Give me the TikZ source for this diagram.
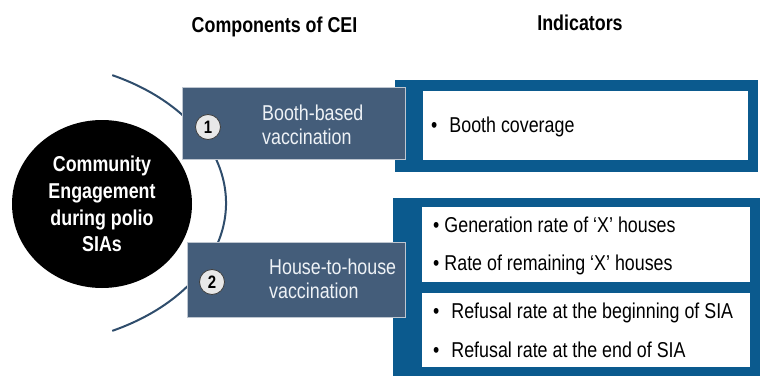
\documentclass[tikz,border=0pt]{standalone}
\usepackage{fontspec}
\setmainfont{Liberation Sans}[FakeStretch=0.83]
\usetikzlibrary{shapes.geometric}
\definecolor{slate}{HTML}{445D7A}
\definecolor{panelblue}{HTML}{0B5A8E}
\definecolor{arccol}{HTML}{2F4D6C}
\definecolor{boxtext}{HTML}{EEF2F6}
\definecolor{numfill}{HTML}{E8E8E8}
\tikzset{
  comp/.style={fill=slate, draw=slate!35!white, line width=1pt},
  panel/.style={fill=panelblue, draw=none},
  inner/.style={fill=white, draw=none},
  numc/.style={circle, fill=numfill, draw=black!75, line width=0.8pt, minimum size=25pt, inner sep=0pt, font=\fontsize{18}{18}\selectfont\bfseries},
  comptext/.style={anchor=west, inner sep=0pt, align=left, text=boxtext, font=\fontsize{21.5}{23.5}\selectfont},
  ind/.style={anchor=west, inner sep=0pt, text height=15pt, text depth=4pt, font=\fontsize{21.5}{26}\selectfont},
  head/.style={inner sep=0pt, font=\fontsize{21.5}{26}\selectfont\bfseries},
}
\begin{document}
\begin{tikzpicture}[x=1pt,y=1pt]
\useasboundingbox (0,0) rectangle (760,376);
% headers
\node[head] (h1) at (274.5,349) {Components of CEI};
\node[head] (h2) at (580,353) {Indicators};
% decorative arc
\coordinate (arcc) at (20,173);
\draw[arccol, line width=2pt] (arcc) ++(63.4:206pt and 143pt) arc[start angle=63.4, end angle=-63.4, x radius=206pt, y radius=143pt];
% central circle
\node[ellipse, fill=black, minimum width=180pt, minimum height=168pt, inner sep=0pt, text=white, align=center, font=\fontsize{21.5}{26.7}\selectfont\bfseries] (cei) at (102,172) {Community\\Engagement\\during polio\\SIAs};
% indicator panels
\path[panel] (395,204) rectangle (758,296);
\path[inner] (423,216) rectangle (748,285);
\path[panel] (393,0) rectangle (760,178);
\path[inner] (422,94) rectangle (750,169);
\path[inner] (422,9) rectangle (750,83);
% component boxes
\node[comp, anchor=south west, minimum width=223pt, minimum height=72pt, inner sep=0pt] (b1) at (182,216) {};
\node[comp, anchor=south west, minimum width=218pt, minimum height=75pt, inner sep=0pt] (b2) at (187,58) {};
\node[numc] (n1) at (208,249) {1};
\node[numc] (n2) at (212,94) {2};
\node[comptext] (t1) at (262,251) {Booth-based\\vaccination};
\node[comptext] (t2) at (269,97) {House-to-house\\vaccination};
% indicator texts
\node[ind] (i1) at (431,249) {\textbullet\hspace{12pt}Booth coverage};
\node[ind] (i2) at (433,149) {\textbullet\hspace{5pt}Generation rate of ‘X’ houses};
\node[ind] (i3) at (433,111) {\textbullet\hspace{5pt}Rate of remaining ‘X’ houses};
\node[ind] (i4) at (433,63) {\textbullet\hspace{12pt}Refusal rate at the beginning of SIA};
\node[ind] (i5) at (433,24) {\textbullet\hspace{12pt}Refusal rate at the end of SIA};
\end{tikzpicture}
\end{document}
